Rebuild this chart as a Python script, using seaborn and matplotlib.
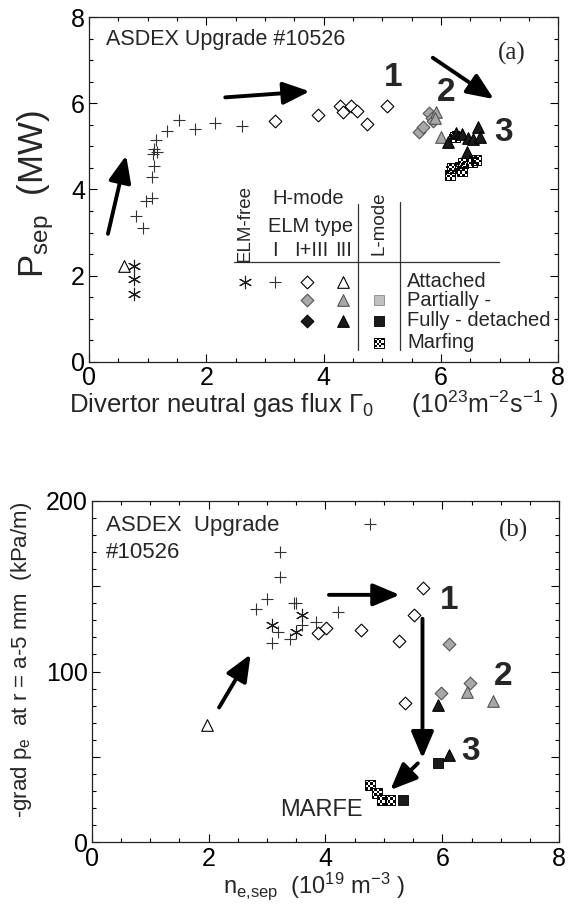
import numpy as np
import pandas as pd
import matplotlib
matplotlib.use("Agg")
import matplotlib.pyplot as plt
import seaborn as sns
from matplotlib.path import Path

sns.set_theme(style="ticks")
plt.rcParams["font.family"] = ["Liberation Sans", "DejaVu Sans"]
plt.rcParams["mathtext.fontset"] = "custom"
plt.rcParams["mathtext.rm"] = "Liberation Sans"
plt.rcParams["mathtext.it"] = "Liberation Sans:italic"
plt.rcParams["mathtext.bf"] = "Liberation Sans:bold"

# ---------------- Panel (a) data: Psep vs divertor neutral flux ----------------
a_elmfree_x = [0.76, 0.76, 0.77]
a_elmfree_y = [2.23, 1.92, 1.57]
a_typeI_x = [0.80, 0.91, 0.97, 1.07, 1.07, 1.10, 1.08, 1.15, 1.11, 1.14, 1.33, 1.53, 1.80, 2.15, 2.60]
a_typeI_y = [3.39, 3.10, 3.74, 3.80, 4.28, 4.54, 4.83, 4.86, 4.93, 5.15, 5.37, 5.62, 5.41, 5.55, 5.48]
a_mixed_att_x = [3.17, 3.90, 4.28, 4.32, 4.46, 4.56, 4.73, 5.07]
a_mixed_att_y = [5.60, 5.72, 5.95, 5.81, 5.95, 5.83, 5.52, 5.95]
a_mixed_part_x = [5.63, 5.69, 5.80, 5.84, 5.86]
a_mixed_part_y = [5.34, 5.46, 5.77, 5.67, 5.60]
a_III_att_x = [0.60]
a_III_att_y = [2.22]
a_III_part_x = [5.92, 5.90, 6.00]
a_III_part_y = [5.81, 5.66, 5.21]
a_III_full_x = [6.12, 6.25, 6.35, 6.46, 6.55, 6.63, 6.66, 6.44]
a_III_full_y = [5.11, 5.32, 5.30, 5.19, 5.17, 5.46, 5.21, 4.88]
a_marf_x = [6.23, 6.15, 6.18, 6.32, 6.36, 6.38, 6.52, 6.60]
a_marf_y = [5.23, 4.34, 4.49, 4.52, 4.43, 4.61, 4.65, 4.69]

# ---------------- Panel (b) data: pressure gradient vs separatrix density ----------------
b_elmfree_x = [3.08, 3.50, 3.59]
b_elmfree_y = [127.0, 123.2, 132.9]
b_typeI_x = [4.76, 3.22, 3.22, 3.00, 2.81, 3.47, 3.50, 4.22, 3.83, 3.19, 3.08, 3.40, 3.59]
b_typeI_y = [186.4, 169.8, 155.6, 142.6, 136.8, 140.1, 140.1, 134.8, 129.0, 123.2, 116.9, 119.3, 127.0]
b_mixed_att_x = [3.87, 4.01, 4.61, 5.25, 5.52, 5.67, 5.36]
b_mixed_att_y = [122.6, 125.7, 124.5, 117.9, 132.9, 148.8, 81.7]
b_mixed_part_x = [6.11, 5.97, 6.47]
b_mixed_part_y = [116.3, 87.5, 93.4]
b_III_att_x = [1.98]
b_III_att_y = [68.7]
b_III_part_x = [6.43, 6.87]
b_III_part_y = [88.1, 82.9]
b_III_full_x = [5.92, 6.11]
b_III_full_y = [80.4, 51.2]
b_Lfull_x = [5.92, 5.33]
b_Lfull_y = [46.3, 24.9]
b_marf_x = [4.77, 4.88, 4.97, 5.11]
b_marf_y = [33.7, 28.8, 24.9, 24.9]

# legend texts
leg_rows = ["Attached", "Partially -", "Fully - detached", "Marfing"]
leg_cols = ["I", "I+III", "III"]

# ---------------- styles ----------------
GREY = "#a8a8a8"
DARK = "#1a1a1a"

# checkerboard marker
def checker_path(n=4):
    verts, codes = [], []
    step = 1.0 / n
    for i in range(n):
        for j in range(n):
            if (i + j) % 2 == 0:
                x0, y0 = -0.5 + i * step, -0.5 + j * step
                verts += [(x0, y0), (x0 + step, y0), (x0 + step, y0 + step), (x0, y0 + step), (x0, y0)]
                codes += [Path.MOVETO, Path.LINETO, Path.LINETO, Path.LINETO, Path.CLOSEPOLY]
    return Path(verts, codes)

CHECK = checker_path(4)
ASTER = (6, 2, 0)

STYLES = {
    "elmfree": dict(marker=ASTER, s=80, color=DARK, linewidth=0.8),
    "typeI": dict(marker="+", s=85, color="#333333", linewidth=0.8),
    "mixed_att": dict(marker="D", s=42, facecolor="white", edgecolor="black", linewidth=0.8),
    "mixed_part": dict(marker="D", s=42, facecolor=GREY, edgecolor="#555555", linewidth=0.8),
    "mixed_full": dict(marker="D", s=42, facecolor=DARK, edgecolor="black", linewidth=0.8),
    "III_att": dict(marker="^", s=70, facecolor="white", edgecolor="black", linewidth=0.8),
    "III_part": dict(marker="^", s=70, facecolor=GREY, edgecolor="#555555", linewidth=0.8),
    "III_full": dict(marker="^", s=70, facecolor=DARK, edgecolor="black", linewidth=0.8),
    "L_part": dict(marker="s", s=45, facecolor="#c0c0c0", edgecolor="#888888", linewidth=0.6),
    "L_full": dict(marker="s", s=45, facecolor=DARK, edgecolor="black", linewidth=0.6),
}


def scatter(ax, xs, ys, key):
    df = pd.DataFrame({"x": xs, "y": ys})
    sns.scatterplot(data=df, x="x", y="y", ax=ax, legend=False, zorder=3, **STYLES[key])


def marfing(ax, xs, ys, s=55):
    df = pd.DataFrame({"x": xs, "y": ys})
    sns.scatterplot(data=df, x="x", y="y", ax=ax, legend=False, marker="s", s=s,
                    facecolor="white", edgecolor="black", linewidth=0.7, zorder=3)
    sns.scatterplot(data=df, x="x", y="y", ax=ax, legend=False, marker=CHECK, s=s,
                    facecolor="black", edgecolor="none", linewidth=0, zorder=4)


def arrow(ax, start, end):
    ax.annotate("", xy=end, xytext=start,
                arrowprops=dict(arrowstyle="-|>,head_length=0.9,head_width=0.38",
                                lw=2.8, color="black", mutation_scale=18,
                                shrinkA=0, shrinkB=0), zorder=5)


def style_axes(ax, xlim, ylim, yticks, ylabels, yminor):
    ax.set_xlim(*xlim)
    ax.set_ylim(*ylim)
    ax.set_xticks([0, 2, 4, 6, 8])
    ax.set_xticks(np.arange(0, 8.01, 0.5), minor=True)
    ax.set_yticks(yticks, labels=ylabels)
    ax.set_yticks(yminor, minor=True)
    ax.tick_params(which="both", direction="in", top=True, right=True, width=0.8,
                   colors="black", labelsize=18)
    ax.tick_params(which="major", length=6, pad=3)
    ax.tick_params(which="minor", length=3)
    for sp in ax.spines.values():
        sp.set_linewidth(0.9)
        sp.set_color("#222222")
        sp.set_visible(True)
    ax.set_xlabel("")
    ax.set_ylabel("")


fig = plt.figure(figsize=(5.68, 9.11), dpi=100)
fig.patch.set_facecolor("white")

# ======================= Panel (a) =======================
axa = fig.add_axes([0.157, 0.603, 0.826, 0.378])

scatter(axa, a_typeI_x, a_typeI_y, "typeI")
scatter(axa, a_elmfree_x, a_elmfree_y, "elmfree")
scatter(axa, a_III_att_x, a_III_att_y, "III_att")
scatter(axa, a_mixed_att_x, a_mixed_att_y, "mixed_att")
scatter(axa, a_mixed_part_x, a_mixed_part_y, "mixed_part")
scatter(axa, a_III_part_x, a_III_part_y, "III_part")
marfing(axa, a_marf_x, a_marf_y)
scatter(axa, a_III_full_x, a_III_full_y, "III_full")

arrow(axa, (0.32, 2.97), (0.63, 4.79))
arrow(axa, (2.32, 6.14), (3.76, 6.28))
arrow(axa, (5.86, 7.06), (6.90, 6.10))

axa.text(5.18, 6.61, "1", fontsize=24, fontweight="bold", ha="center", va="center")
axa.text(6.09, 6.26, "2", fontsize=24, fontweight="bold", ha="center", va="center")
axa.text(7.07, 5.33, "3", fontsize=24, fontweight="bold", ha="center", va="center")
axa.text(0.28, 7.49, "ASDEX Upgrade #10526", fontsize=15.5, ha="left", va="center")
axa.text(7.20, 7.15, "(a)", fontsize=18, family="Liberation Serif", ha="center", va="center")

# legend table (layout in data coordinates of panel a)
lc = "#333333"
LFS = 14.5
axa.plot([4.59, 4.59], [0.26, 3.66], color=lc, lw=0.9)
axa.plot([5.30, 5.30], [0.26, 3.70], color=lc, lw=0.9)
axa.plot([2.47, 6.99], [2.31, 2.31], color=lc, lw=0.9)
axa.text(2.65, 3.20, "ELM-free", rotation=90, fontsize=13.5, ha="center", va="center")
axa.text(3.74, 3.78, "H-mode", fontsize=LFS, ha="center", va="center")
axa.text(3.77, 3.14, "ELM type", fontsize=LFS, ha="center", va="center")
for txt, cx in zip(leg_cols, [3.17, 3.78, 4.34]):
    axa.text(cx, 2.59, txt, fontsize=LFS, ha="center", va="center")
axa.text(4.95, 3.22, "L-mode", rotation=90, fontsize=13.5, ha="center", va="center")
row_y = [1.86, 1.43, 0.95, 0.44]
for txt, ry in zip(leg_rows, row_y):
    axa.text(5.42, ry, txt, fontsize=LFS, ha="left", va="center")
scatter(axa, [2.65], [row_y[0]], "elmfree")
scatter(axa, [3.17], [row_y[0]], "typeI")
scatter(axa, [3.72], [row_y[0]], "mixed_att")
scatter(axa, [3.72], [row_y[1]], "mixed_part")
scatter(axa, [3.72], [row_y[2]], "mixed_full")
scatter(axa, [4.32], [row_y[0]], "III_att")
scatter(axa, [4.32], [row_y[1]], "III_part")
scatter(axa, [4.32], [row_y[2]], "III_full")
scatter(axa, [4.94], [row_y[1]], "L_part")
scatter(axa, [4.94], [row_y[2]], "L_full")
marfing(axa, [4.94], [row_y[3]], s=45)

style_axes(axa, (0, 8), (0, 8), [0, 2, 4, 6, 8], ["0", "2", "4", "6", "8"],
           np.arange(0, 8.01, 0.5))

axa.text(-0.115, 0.487, r"P$_{\rm sep}$  (MW)", rotation=90, fontsize=25,
         transform=axa.transAxes, ha="center", va="center")
axa.text(-0.042, -0.125, r"Divertor neutral gas flux $\Gamma_0$", fontsize=18.5,
         transform=axa.transAxes, ha="left", va="center")
axa.text(1.0, -0.125, r"(10$^{23}$m$^{-2}$s$^{-1}$ )", fontsize=18,
         transform=axa.transAxes, ha="right", va="center")

# ======================= Panel (b) =======================
axb = fig.add_axes([0.1614, 0.0752, 0.8232, 0.3752])

scatter(axb, b_typeI_x, b_typeI_y, "typeI")
scatter(axb, b_elmfree_x, b_elmfree_y, "elmfree")
scatter(axb, b_III_att_x, b_III_att_y, "III_att")
scatter(axb, b_mixed_att_x, b_mixed_att_y, "mixed_att")
scatter(axb, b_mixed_part_x, b_mixed_part_y, "mixed_part")
scatter(axb, b_III_part_x, b_III_part_y, "III_part")
scatter(axb, b_III_full_x, b_III_full_y, "III_full")
scatter(axb, b_Lfull_x, b_Lfull_y, "L_full")
marfing(axb, b_marf_x, b_marf_y)

arrow(axb, (2.18, 79.0), (2.72, 110.1))
arrow(axb, (4.06, 144.9), (5.27, 144.9))
arrow(axb, (5.66, 130.9), (5.66, 49.2))
arrow(axb, (5.58, 46.3), (5.11, 30.7))

axb.text(6.11, 141.6, "1", fontsize=24, fontweight="bold", ha="center", va="center")
axb.text(7.04, 96.9, "2", fontsize=24, fontweight="bold", ha="center", va="center")
axb.text(6.48, 53.1, "3", fontsize=24, fontweight="bold", ha="center", va="center")
axb.text(3.93, 19.1, "MARFE", fontsize=17, ha="center", va="center")
axb.text(0.24, 185.4, "ASDEX  Upgrade", fontsize=16, ha="left", va="center")
axb.text(0.24, 169.8, "#10526", fontsize=16, ha="left", va="center")
axb.text(7.22, 182.5, "(b)", fontsize=18, family="Liberation Serif", ha="center", va="center")

style_axes(axb, (0, 8), (0, 200), [0, 50, 100, 150, 200], ["0", "", "100", "", "200"],
           np.arange(0, 200.1, 10))

axb.text(-0.150, 0.534, r"-grad p$_{\rm e}$  at r = a-5 mm  (kPa/m)", rotation=90,
         fontsize=16, transform=axb.transAxes, ha="center", va="center")
axb.text(0.475, -0.128, r"n$_{\rm e{,}sep}$  (10$^{19}$ m$^{-3}$ )", fontsize=17,
         transform=axb.transAxes, ha="center", va="center")

fig.savefig("out.png", dpi=100, facecolor="white")
